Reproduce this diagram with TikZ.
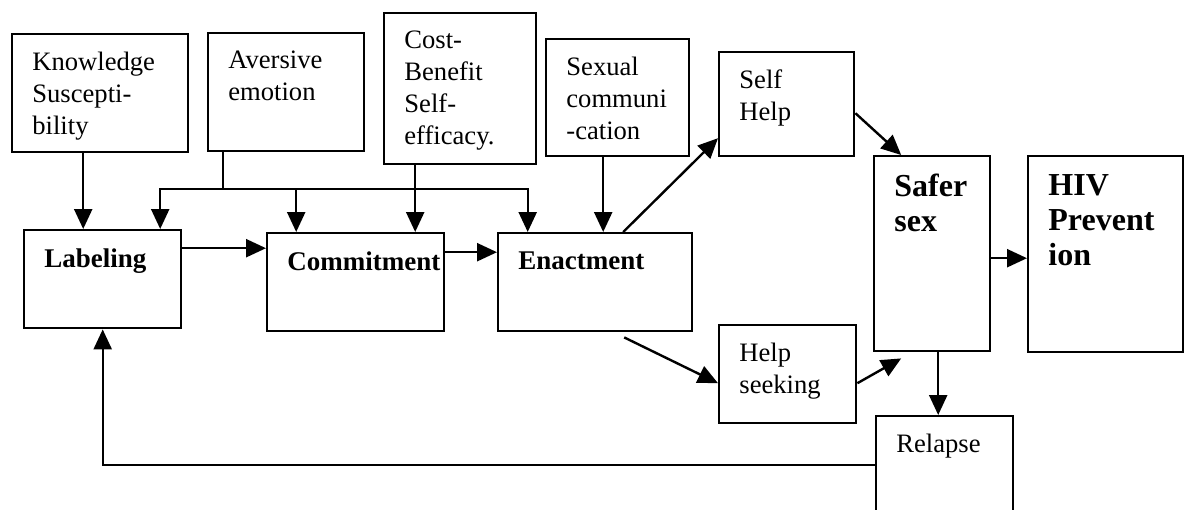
\documentclass[tikz,border=0pt]{standalone}
\usepackage{fontspec}
\setmainfont{Liberation Serif}
\usetikzlibrary{arrows.meta}

\begin{document}
\begin{tikzpicture}[
    x=0.5pt, y=-0.5pt,
    box/.style={rectangle, draw, line width=1.2pt, anchor=north west, inner sep=0pt},
    txt/.style={anchor=north west, inner sep=0pt, align=left, xshift=10.5pt, yshift=-9.3pt,
                font=\fontsize{13.3}{16}\selectfont},
    hd/.style={anchor=north west, inner sep=0pt, align=left, xshift=10.5pt, yshift=-9.5pt,
               font=\fontsize{13.5}{16}\selectfont\bfseries},
    big/.style={anchor=north west, inner sep=0pt, align=left, xshift=10.5pt, yshift=-9.5pt,
                font=\fontsize{16}{17.5}\selectfont\bfseries},
    arr/.style={-{Triangle[length=10pt,width=9pt]}, line width=1.2pt}
]
\useasboundingbox (0,0) rectangle (1184,509);
\clip (0,0) rectangle (1184,509);

% top row
\node[box, minimum width=88pt, minimum height=59pt, label={[txt]north west:Knowledge\\Suscepti-\\bility}] (know) at (11,33) {};
\node[box, minimum width=78pt, minimum height=59pt, label={[txt]north west:Aversive\\emotion}] (aver) at (207,32) {};
\node[box, minimum width=76pt, minimum height=75.5pt, label={[txt]north west:Cost-\\Benefit\\Self-\\efficacy.}] (cost) at (383,12) {};
\node[box, minimum width=71.5pt, minimum height=58.5pt, label={[txt]north west:Sexual\\communi\\-cation}] (sexcom) at (545,38) {};
\node[box, minimum width=67.5pt, minimum height=52pt, label={[txt]north west:Self\\Help}] (selfhelp) at (718,51) {};

% main chain
\node[box, minimum width=78.5pt, minimum height=49pt, label={[hd]north west:Labeling}] (label) at (23,229) {};
\node[box, minimum width=88.5pt, minimum height=49pt, label={[hd]north west:Commitment}] (commit) at (266,232) {};
\node[box, minimum width=97pt, minimum height=49pt, label={[hd]north west:Enactment}] (enact) at (497,232) {};
\node[box, minimum width=68.5pt, minimum height=49pt, label={[txt]north west:Help\\seeking}] (helpseek) at (718,324) {};
\node[box, minimum width=58pt, minimum height=97.5pt, label={[big]north west:Safer\\sex}] (safer) at (873,155) {};
\node[box, minimum width=77.5pt, minimum height=98pt, label={[big]north west:HIV\\Prevent\\ion}] (hiv) at (1027,155) {};
\node[box, minimum width=68.5pt, minimum height=49pt, label={[txt]north west:Relapse}] (relapse) at (875,415) {};

% inputs
\coordinate (bus) at (223,189);
\path ([xshift=-29.75pt]commit.north) coordinate (cdrop);
\draw[arr] ([xshift=-8.5pt]know.south) -- ([xshift=-8.5pt]know.south |- label.north);
\draw[line width=1.2pt] (aver.south -| bus) -- (bus);
\draw[arr] (bus) -| ([xshift=28.75pt]label.north);
\draw[arr] (bus) -| ([xshift=-33.75pt]enact.north);
\draw[arr] (cdrop |- bus) -- (cdrop);
\draw[arr] ([xshift=-22.5pt]cost.south) -- ([xshift=-22.5pt]cost.south |- commit.north);
\draw[arr] ([xshift=-7.25pt]sexcom.south) -- ([xshift=-7.25pt]sexcom.south |- enact.north);

% chain
\draw[arr] ([yshift=15.5pt]label.east) -- ([yshift=15.5pt]label.east -| commit.west);
\draw[arr] ([yshift=15pt]commit.east) -- ([yshift=15pt]commit.east -| enact.west);
\draw[arr] ([xshift=14pt]enact.north) -- ([yshift=-17pt]selfhelp.west);
\draw[arr] ([xshift=14.5pt,yshift=-2.5pt]enact.south) -- ([yshift=-4.5pt]helpseek.west);
\draw[arr] ([yshift=-4.5pt]selfhelp.east) -- ([xshift=-15.5pt]safer.north);
\draw[arr] ([yshift=-4.5pt]helpseek.east) -- ([xshift=-15.5pt,yshift=-3pt]safer.south);
\draw[arr] ([yshift=-2.25pt]safer.east) -- ([yshift=-2.25pt]safer.east -| hiv.west);
\draw[arr] ([xshift=3pt]safer.south) -- ([xshift=3pt]safer.south |- relapse.north);

% feedback
\draw[arr] (relapse.west) -| (label.south);
\end{tikzpicture}
\end{document}
